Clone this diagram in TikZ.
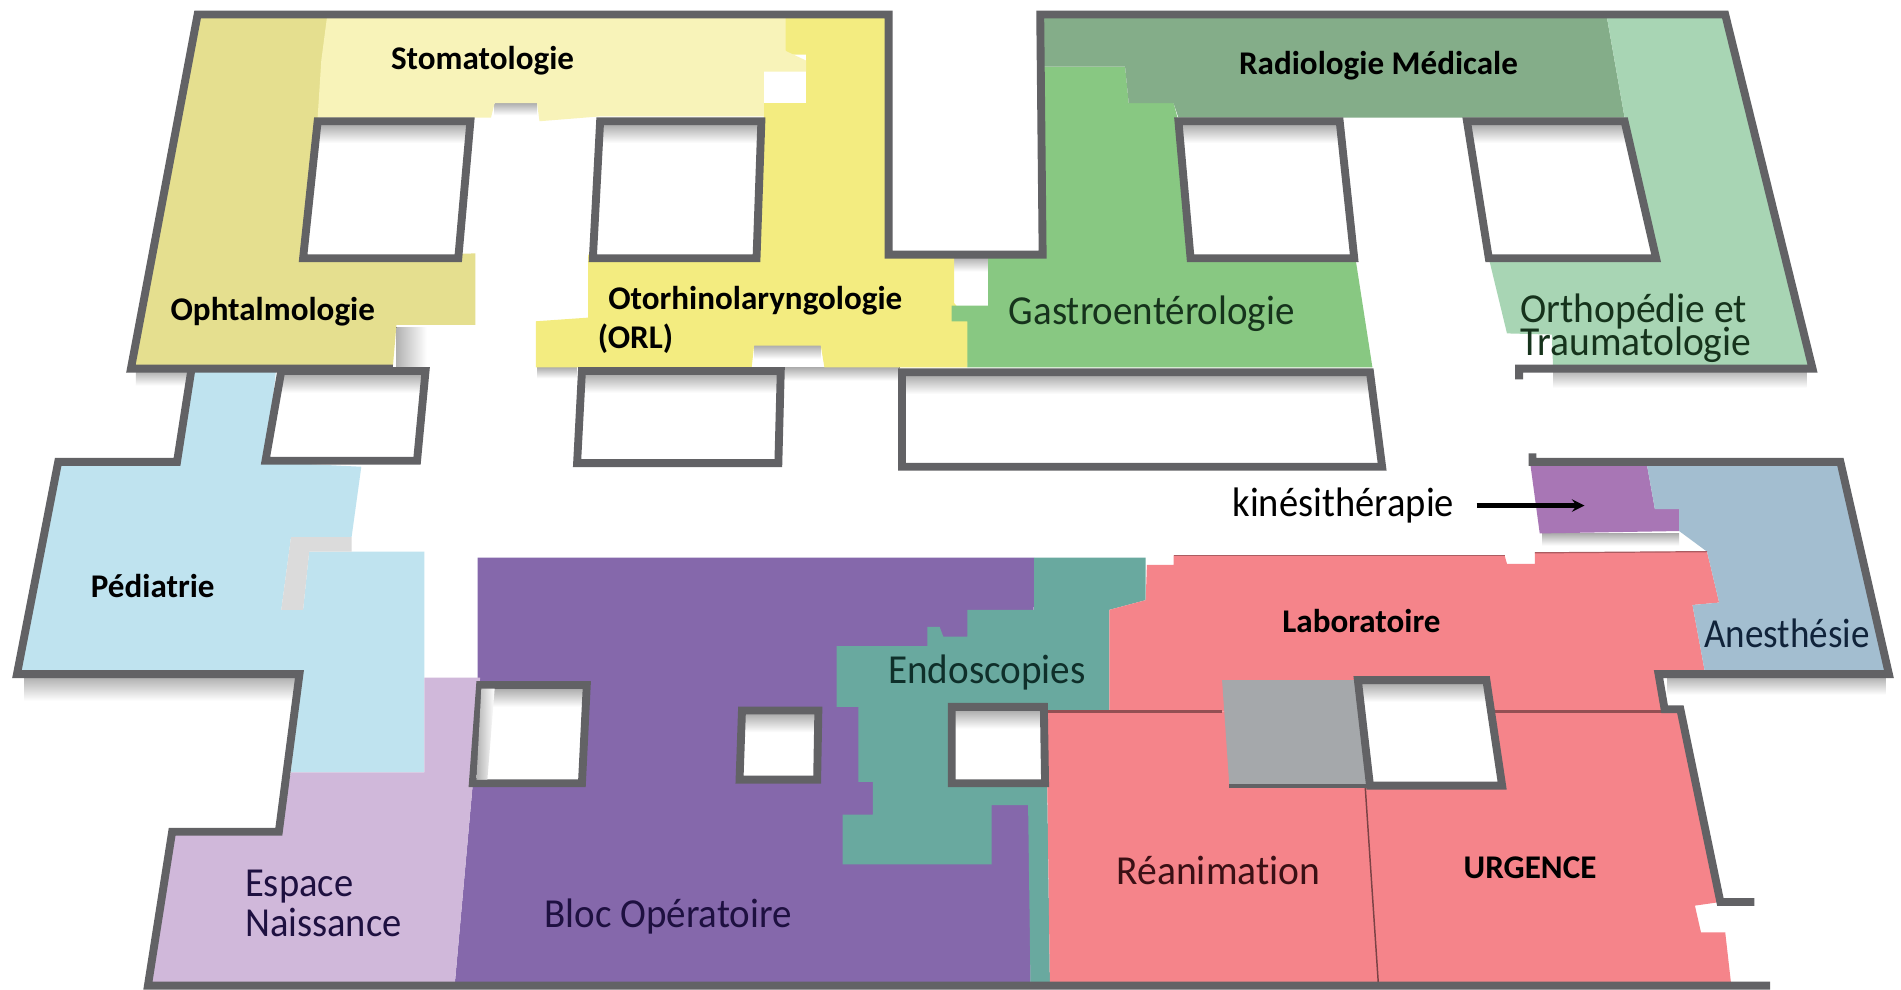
\documentclass[tikz,border=0pt]{standalone}
\usepackage{graphicx}
\usepackage{fontspec}
\setmainfont[Ligatures=NoCommon]{Carlito}
\definecolor{wall}{HTML}{626265}
\definecolor{olive}{HTML}{E5DF8F}
\definecolor{pale}{HTML}{F8F3B9}
\definecolor{yel}{HTML}{F3EC80}
\definecolor{grn}{HTML}{88C882}
\definecolor{dkg}{HTML}{84AD89}
\definecolor{ltg}{HTML}{A8D5B4}
\definecolor{blu}{HTML}{BFE3EF}
\definecolor{mauve}{HTML}{D0B8DA}
\definecolor{purp}{HTML}{8568AB}
\definecolor{teal2}{HTML}{69A99F}
\definecolor{redz}{HTML}{F5848A}
\definecolor{kin}{HTML}{A876B5}
\definecolor{anes}{HTML}{A3BED0}
\definecolor{gry}{HTML}{A5A8AB}
\definecolor{tgreen}{HTML}{16331C}
\definecolor{tviolet}{HTML}{1E1040}
\definecolor{tred}{HTML}{3A1015}
\definecolor{tblue}{HTML}{10233A}
\definecolor{tteal}{HTML}{0F2F2A}
\tikzset{
  x=1pt,y=-1pt,
  zone/.style={fill=#1,draw=none},
  wallline/.style={draw=wall,line width=6.5pt,line join=miter,line cap=butt},
  court/.style={draw=wall,line width=6.5pt,line join=miter},
  thinline/.style={draw=#1,line width=2pt},
  shad/.style={top color=black!32,bottom color=white,draw=none},
  shadl/.style={left color=black!30,right color=white,draw=none},
  boldlab/.style={font=\fontsize{27.3}{27.3}\selectfont\bfseries,inner sep=0pt,text=black},
  lightlab/.style={font=\fontsize{34}{28}\selectfont,inner sep=0pt,align=left,text=#1}
}
\newcommand{\courtyard}[2]{%
  \fill[white] #1 -- cycle;
  \begin{scope}\clip #1 -- cycle;
    \fill[shad] (0,#2) rectangle (1568,#2+15);
  \end{scope}
  \draw[court] #1 -- cycle;
}
\newcommand{\hs}[2]{\scalebox{#1}[1]{#2}}
\begin{document}
\begin{tikzpicture}
\useasboundingbox (0,0) rectangle (1568,815.8);
\fill[white] (0,0) rectangle (1568,815.8);
% soft shadows outside the building
\fill[shad] (20,558) rectangle (247,578);
\fill[shad] (112,306) rectangle (156,318);
\fill[shad] (1375,558) rectangle (1555,573);
\fill[shad] (1281,305) rectangle (1490,320);
\fill[shad] (150,687) rectangle (228,697);
\fill[shad] (737,212) rectangle (858,224);
\fill[shad] (443,303) rectangle (476,312);
\fill[shad] (645,303) rectangle (742,314);
\fill[shad] (622,285) rectangle (677,296);
\fill[shad] (408,85) rectangle (443,95);
\fill[shad] (1272,440) rectangle (1385,450);
\fill[shadl] (327,270) rectangle (352,303);
% zones
\path[zone=purp] (394,460)--(853,460)--(850,813)--(375,813)--(390,646)--(394,565)--cycle;
\path[zone=olive] (163,12)--(272,12)--(272,45)--(262,100)--(250,213)--(392,209)--(392,268)--(327,268)--(324,303)--(108,303)--cycle;
\path[zone=yel] (645,12)--(733,12)--(733,212)--(787,212)--(787,250)--(800,265)--(798,303)--(680,303)--(677,285)--(622,285)--(620,303)--(442,303)--(442,265)--(485,262)--(485,210)--(624,213)--(630,96)--(630,85)--(665,85)--(665,59)--(665,45)--(648,45)--cycle;
\path[zone=pale] (270,12)--(648,12)--(648,42)--(665,50)--(665,59)--(630,59)--(630,96)--(495,96)--(445,100)--(443,85)--(408,85)--(405,97)--(262,97)--(265,50)--cycle;
\path[zone=grn] (858,55)--(928,55)--(931,85)--(968,85)--(972,100)--(982,213)--(1118,213)--(1132,303)--(798,303)--(798,265)--(785,265)--(785,252)--(815,252)--(815,213)--(858,210)--cycle;
\path[zone=dkg] (858,12)--(1325,12)--(1340,97)--(972,97)--(968,85)--(931,85)--(928,55)--(858,55)--cycle;
\path[zone=ltg] (1325,12)--(1423,12)--(1495,303)--(1281,303)--(1280,276)--(1243,275)--(1228,213)--(1366,213)--(1340,97)--cycle;
\path[zone=blu] (158,303)--(228,303)--(219,381)--(298,385)--(290,443)--(240,443)--(232,503)--(250,503)--(255,455)--(350,455)--(350,637)--(240,637)--(247,557)--(14,556)--(48,381)--(146,381)--cycle;
\path[zone=black!14] (240,443)--(290,443)--(290,455)--(255,455)--(250,503)--(232,503)--cycle;
\path[zone=mauve] (350,559)--(396,559)--(390,646)--(375,813)--(122,813)--(142,685)--(230,685)--(240,637)--(350,637)--cycle;
\path[zone=teal2] (853,460)--(945,460)--(945,495)--(915,503)--(915,590)--(863,590)--(866,813)--(850,813)--(848,664)--(818,664)--(818,713)--(695,713)--(695,672)--(720,672)--(720,645)--(708,645)--(708,583)--(690,583)--(690,533)--(765,533)--(765,517)--(775,517)--(778,525)--(798,525)--(798,503)--(853,503)--cycle;
\path[zone=redz] (968,458)--(1241,458)--(1243,465)--(1266,465)--(1266,456)--(1408,455)--(1418,497)--(1396,499)--(1406,553)--(1368,554)--(1373,587)--(915,587)--(915,503)--(945,495)--(946,466)--(968,466)--cycle;
\path[zone=redz] (863,587)--(1386,587)--(1419,744)--(1398,747)--(1403,769)--(1423,769)--(1428,813)--(866,813)--cycle;
\path[zone=kin] (1262,381)--(1358,381)--(1365,420)--(1385,420)--(1385,438)--(1270,440)--cycle;
\path[zone=anes] (1358,381)--(1518,381)--(1558,556)--(1406,553)--(1396,499)--(1418,497)--(1418,470)--(1472,470)--(1472,497)--(1418,497)--(1408,455)--(1385,438)--(1385,420)--(1365,420)--cycle;
\path[zone=gry] (1008,561)--(1120,561)--(1130,648)--(1014,648)--cycle;
% thin divisions
\draw[thinline=redz!60!black] (863,587)--(1008,587);
\draw[thinline=redz!60!black] (1232,587)--(1375,587);
\draw[thinline=redz!50!black,line width=1.2pt] (1126,648)--(1137,813);
\draw[thinline=redz!70!black,line width=1pt] (968,458)--(1241,458);
\draw[thinline=redz!70!black,line width=1pt] (1266,456)--(1408,455);
% courtyards
\courtyard{(262,100)--(388,100)--(378,213)--(250,213)}{103}
\courtyard{(495,100)--(628,100)--(624,213)--(489,213)}{103}
\courtyard{(972,100)--(1105,100)--(1117,213)--(982,213)}{103}
\courtyard{(1210,100)--(1340,100)--(1366,213)--(1228,213)}{103}
\courtyard{(232,306)--(351,306)--(344,380)--(219,380)}{309}
\courtyard{(480,306)--(644,306)--(642,382)--(476,382)}{309}
\courtyard{(744,307)--(1130,307)--(1140,385)--(744,385)}{310}
\courtyard{(396,565)--(484,565)--(480,646)--(390,646)}{568}
\courtyard{(612,586)--(675,586)--(674,643)--(610,643)}{589}
\courtyard{(785,583)--(861,583)--(862,646)--(785,646)}{586}
\path[shadl] (397,568)--(408,568)--(402,643)--(393,643)--cycle;
\draw[wall,line width=3.5pt] (1014,648)--(1130,648);
\courtyard{(1120,561)--(1226,561)--(1239,648)--(1130,648)}{564}
% outer walls
\draw[wallline] (324,304)--(108,304)--(163,12)--(733,12)--(733,210)--(860,210)--(858,12)--(1423,12)--(1495,304)--(1253,304)--(1253,313);
\draw[wallline] (158,304)--(146,381)--(48,381)--(14,556)--(247,556)--(230,686)--(142,686)--(122,813)--(1460,813);
\draw[wallline] (1264,374)--(1264,381)--(1518,381)--(1558,556)--(1368,556)--(1373,585)--(1386,585)--(1419,744)--(1447,744);
% labels
\node[boldlab] (stoma) at (398,50) {Stomatologie};
\node[boldlab] (radio) at (1137,54) {Radiologie Médicale};
\node[boldlab] (ophta) at (225,257) {Ophtalmologie};
\node[boldlab] (orl1) at (623,248) {Otorhinolaryngologie};
\node[boldlab,anchor=west] (orl2) at (493,279) {(ORL)};
\node[boldlab] (pedia) at (126,483) {Pédiatrie};
\node[boldlab] (labo) at (1123,512) {Laboratoire};
\node[boldlab] (urg) at (1262,716) {URGENCE};
\node[lightlab=tgreen] (gastro) at (950,259) {\hs{.945}{Gastroentérologie}};
\node[lightlab=tgreen,anchor=west] (ortho1) at (1254,257) {\hs{.96}{Orthopédie et}};
\node[lightlab=tgreen,anchor=west] (ortho2) at (1254,284) {\hs{.96}{Traumatologie}};
\node[lightlab=black] (kine) at (1108,417) {\hs{.935}{kinésithérapie}};
\node[lightlab=tblue] (anesl) at (1474,522) {\hs{.9}{Anesthésie}};
\node[lightlab=tteal] (endo) at (814,555) {\hs{.95}{Endoscopies}};
\node[lightlab=tred] (rea) at (1005,718) {\hs{.96}{Réanimation}};
\node[lightlab=tviolet,anchor=west] (bloc) at (449,756) {\hs{.945}{Bloc Opératoire}};
\node[lightlab=tviolet,anchor=west] (esp1) at (202,731) {\hs{.935}{Espace}};
\node[lightlab=tviolet,anchor=west] (esp2) at (202,761) {\hs{.935}{Naissance}};
\coordinate (arrowstart) at (1218,417);
\coordinate (arrowend) at (1307,417);
\draw[-stealth,line width=3.5pt,black] (arrowstart) -- (arrowend);
\end{tikzpicture}
\end{document}
